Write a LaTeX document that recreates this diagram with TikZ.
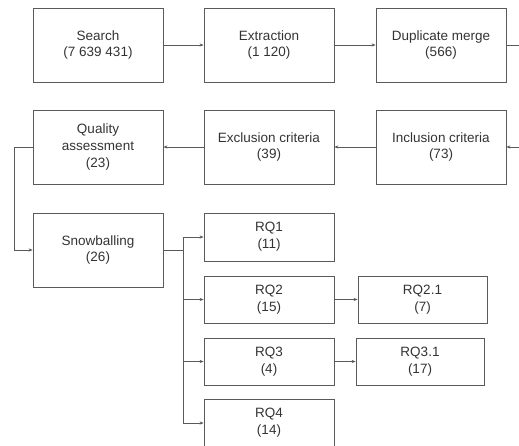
\documentclass[tikz,border=0pt]{standalone}
\usepackage{fontspec}
\setmainfont{Liberation Sans}
\usetikzlibrary{arrows.meta}

\definecolor{boxline}{HTML}{5A5A5A}
\definecolor{boxtext}{HTML}{333333}

\tikzset{
    stage/.style={draw=boxline, line width=0.8pt, text=boxtext, align=center,
        inner sep=0pt, minimum width=130pt, minimum height=74pt,
        font=\fontsize{13.5}{16.7}\selectfont},
    rqbox/.style={stage, minimum height=47pt},
    flow/.style={draw=boxline, line width=0.6pt, -{Stealth[length=4pt,width=3.2pt]}}
}

\begin{document}
\begin{tikzpicture}[x=1pt,y=-1pt]
        \useasboundingbox (0,0) rectangle (519,446);

        % first row
        \node[stage] (search) at (98,45) {Search\\(7 639 431)};
        \node[stage] (extract) at (269,45) {Extraction\\(1 120)};
        \node[stage] (dupl) at (441,45) {Duplicate merge\\(566)};

        % second row
        \node[stage] (quality) at (98,147) {Quality\\assessment\\(23)};
        \node[stage] (excl) at (269,147) {Exclusion criteria\\(39)};
        \node[stage] (incl) at (441,147) {Inclusion criteria\\(73)};

        \node[stage] (snow) at (98,250) {Snowballing\\(26)};

        % research questions
        \node[rqbox, minimum height=48pt] (rq1) at (269,237) {RQ1\\(11)};
        \node[rqbox] (rq2) at (269,299.5) {RQ2\\(15)};
        \node[rqbox] (rq3) at (269,361.5) {RQ3\\(4)};
        \node[rqbox] (rq4) at (269,423) {RQ4\\(14)};
        \node[rqbox, minimum width=129pt] (rq21) at (422.5,299.5) {RQ2.1\\(7)};
        \node[rqbox, minimum width=128pt] (rq31) at (420,361.5) {RQ3.1\\(17)};

        \coordinate (bus) at (183,250);
        \coordinate (turn) at (14,147);

        \draw[flow] (search) -- (extract);
        \draw[flow] (extract) -- (dupl);
        \draw[flow] (dupl.east) -- ++(30,0) |- (incl.east);
        \draw[flow] (incl) -- (excl);
        \draw[flow] (excl) -- (quality);
        \draw[flow] (quality.west) -- (turn) |- (snow.west);

        \draw[draw=boxline, line width=0.6pt] (snow.east) -- (bus);
        \foreach \q in {rq1,rq2,rq3,rq4}{\draw[flow] (bus) |- (\q.west);}

        \draw[flow] (rq2) -- (rq21);
        \draw[flow] (rq3) -- (rq31);
    \end{tikzpicture}
\end{document}
